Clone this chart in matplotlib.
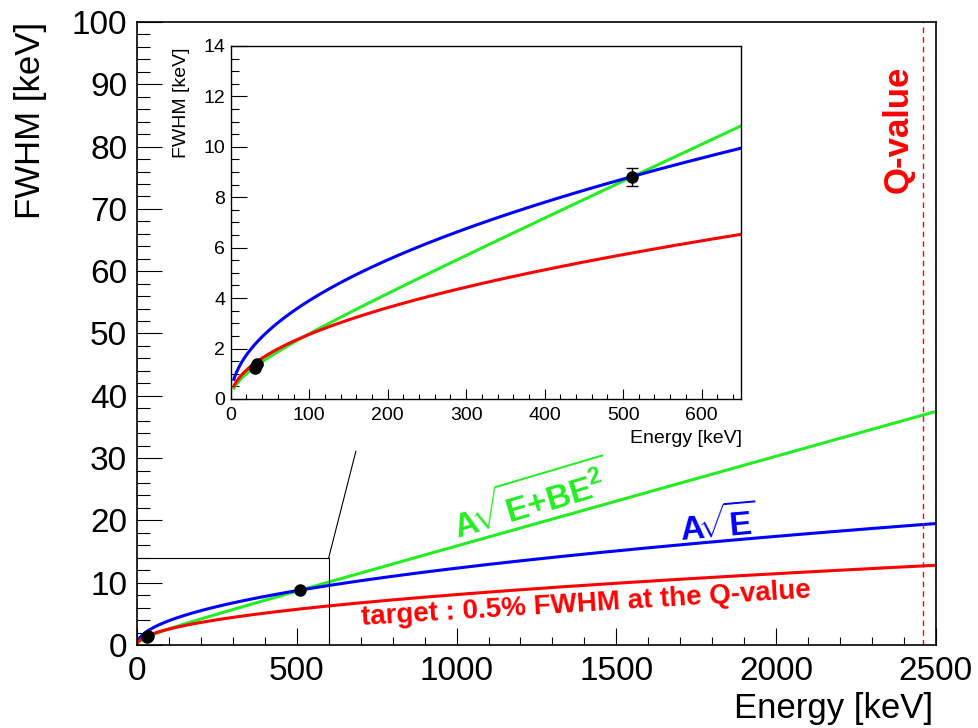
import numpy as np
from matplotlib import pyplot as plt
from matplotlib.ticker import MultipleLocator

plt.rcParams['font.family'] = ['Liberation Sans', 'DejaVu Sans']
plt.rcParams['mathtext.fontset'] = 'custom'
plt.rcParams['mathtext.rm'] = 'Liberation Sans'
plt.rcParams['mathtext.bf'] = 'Liberation Sans:bold'

# measured points (energy keV, FWHM keV, error)
pt_energy = [31.0, 33.0, 511.0]
pt_fwhm = [1.24, 1.38, 8.80]
pt_err = [0.05, 0.05, 0.36]

# fit parameters
A_sqrt = 0.390            # blue: A*sqrt(E)
A_target = 0.256          # red: target curve, 0.5% at Q
A2_lin = 0.0460           # green: sqrt(a*E + b*E^2)
B2_quad = 2.0655e-4
q_value = 2458

e_main = np.linspace(4, 2500, 600)
e_ins = np.linspace(4, 650, 400)


def f_blue(e):
    return A_sqrt * np.sqrt(e)


def f_red(e):
    return A_target * np.sqrt(e)


def f_green(e):
    return np.sqrt(A2_lin * e + B2_quad * e ** 2)


fig = plt.figure(figsize=(9.79, 7.28), dpi=100)
ax = fig.add_axes([0.1399, 0.114, 0.8161, 0.8558])

ax.plot(e_main, f_green(e_main), color='#22ee22', lw=2.2)
ax.plot(e_main, f_blue(e_main), color='#0000ff', lw=2.2)
ax.plot(e_main, f_red(e_main), color='#ff0000', lw=2.2)
ax.errorbar(pt_energy, pt_fwhm, yerr=pt_err, fmt='o', color='black', ms=8, capsize=0, elinewidth=1)
ax.axvline(q_value, color='red', lw=1, ls=(0, (4, 3)))

# zoom box
ax.plot([0, 600, 600], [14, 14, 0], color='black', lw=0.8)
ax.plot([600, 685], [14, 31.1], color='black', lw=0.8)

ax.set_xlim(0, 2500)
ax.set_ylim(0, 100)
ax.xaxis.set_major_locator(MultipleLocator(500))
ax.xaxis.set_minor_locator(MultipleLocator(100))
ax.yaxis.set_major_locator(MultipleLocator(10))
ax.yaxis.set_minor_locator(MultipleLocator(2))
ax.tick_params(which='both', direction='in', labelsize=24, width=0.8)
ax.tick_params(axis='y', which='major', length=18, pad=7)
ax.tick_params(axis='y', which='minor', length=9.4)
ax.tick_params(axis='x', which='major', length=12, pad=8)
ax.tick_params(axis='x', which='minor', length=6)
for s in ax.spines.values():
    s.set_linewidth(1.2)

ax.text(704, 3.2, 'target : 0.5% FWHM at the Q-value', color='red', fontsize=20,
        fontweight='bold', rotation=3.5, rotation_mode='anchor', ha='left', va='baseline')
ax.text(1001, 17.0, r'$\mathbf{A}\!\sqrt{\mathbf{E{+}BE}^{\mathbf{2}}}$', color='#22ee22',
        fontsize=24, rotation=16.5, rotation_mode='anchor', ha='left', va='baseline')
ax.text(1702, 16.7, r'$\mathbf{A}\!\sqrt{\mathbf{E}}$', color='blue', fontsize=24,
        rotation=5, rotation_mode='anchor', ha='left', va='baseline')
ax.text(2381, 82.7, 'Q-value', color='red', fontsize=25, fontweight='bold',
        rotation=90, ha='center', va='center')

fig.text(933 / 979, 10 / 728, 'Energy [keV]', fontsize=25, ha='right', va='baseline')
fig.text(31 / 979, 1 - 22 / 728, 'FWHM [keV]', fontsize=25, rotation=90, ha='center', va='top')

# inset
ins = fig.add_axes([0.2357, 0.452, 0.521, 0.4849])
ins.plot(e_ins, f_green(e_ins), color='#22ee22', lw=2.2)
ins.plot(e_ins, f_blue(e_ins), color='#0000ff', lw=2.2)
ins.plot(e_ins, f_red(e_ins), color='#ff0000', lw=2.2)
ins.errorbar(pt_energy, pt_fwhm, yerr=pt_err, fmt='o', color='black', ms=8,
             capsize=4, elinewidth=1, capthick=1)
ins.set_xlim(0, 650)
ins.set_ylim(0, 14)
ins.xaxis.set_major_locator(MultipleLocator(100))
ins.xaxis.set_minor_locator(MultipleLocator(20))
ins.yaxis.set_major_locator(MultipleLocator(2))
ins.yaxis.set_minor_locator(MultipleLocator(0.5))
ins.tick_params(which='both', direction='in', labelsize=14, width=0.8)
ins.tick_params(axis='y', which='major', length=11.5, pad=4)
ins.tick_params(axis='y', which='minor', length=5.8)
ins.tick_params(axis='x', which='major', length=7, pad=6)
ins.tick_params(axis='x', which='minor', length=3.3)
for s in ins.spines.values():
    s.set_linewidth(1.0)

fig.text(742 / 979, 1 - 443 / 728, 'Energy [keV]', fontsize=14, ha='right', va='baseline')
fig.text(182 / 979, 1 - 48 / 728, 'FWHM [keV]', fontsize=14, rotation=90, ha='center', va='top')

plt.savefig('out.png', dpi=100)
